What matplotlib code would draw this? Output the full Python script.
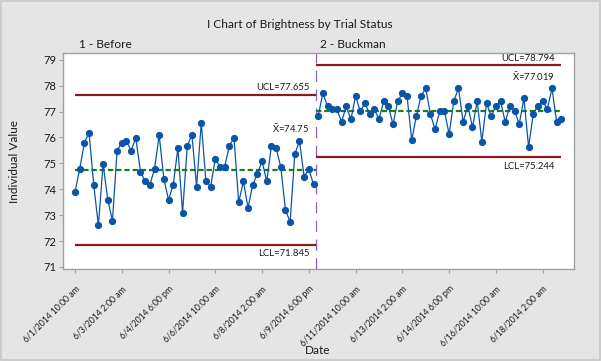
import matplotlib
matplotlib.use("Agg")
import matplotlib.pyplot as plt
from matplotlib.patches import Rectangle
import numpy as np

plt.rcParams['font.family'] = ['Lato', 'DejaVu Sans']
plt.rcParams['mathtext.fontset'] = 'custom'
plt.rcParams['mathtext.rm'] = 'Lato'
plt.rcParams['mathtext.it'] = 'Lato'
plt.rcParams['mathtext.bf'] = 'Lato'

before = [73.90, 74.78, 75.80, 76.18, 74.17, 72.60, 74.98, 73.60, 72.78, 75.49,
          75.80, 75.86, 75.49, 75.98, 74.68, 74.30, 74.17, 74.78, 76.09, 74.40,
          73.59, 74.17, 75.59, 73.09, 75.67, 76.10, 74.10, 76.57, 74.30, 74.10,
          75.17, 74.87, 74.87, 75.68, 75.98, 73.49, 74.30, 73.29, 74.17, 74.59,
          75.09, 74.30, 75.68, 75.59, 74.86, 73.21, 72.73, 75.36, 75.86, 74.49,
          74.77, 74.19]
buckman = [76.83, 77.70, 77.20, 77.09, 77.09, 76.60, 77.20, 76.70, 77.60, 77.01,
           77.32, 76.90, 77.09, 76.70, 77.40, 77.22, 76.51, 77.40, 77.70, 77.60,
           75.90, 76.82, 77.60, 77.90, 76.90, 76.32, 77.01, 77.01, 76.13, 77.40,
           77.90, 76.60, 77.22, 76.40, 77.40, 75.84, 77.32, 76.83, 77.20, 77.40,
           76.60, 77.22, 77.02, 76.52, 77.51, 75.63, 76.91, 77.22, 77.40, 77.09,
           77.90, 76.60, 76.70]

phase_names = ["1 - Before", "2 - Buckman"]
ucl = [77.655, 78.794]
mean = [74.75, 77.019]
lcl = [71.845, 75.244]

tick_labels = ["6/1/2014 10:00 am", "6/3/2014 2:00 am", "6/4/2014 6:00 pm",
               "6/6/2014 10:00 am", "6/8/2014 2:00 am", "6/9/2014 6:00 pm",
               "6/11/2014 10:00 am", "6/13/2014 2:00 am", "6/14/2014 6:00 pm",
               "6/16/2014 10:00 am", "6/18/2014 2:00 am"]

values = before + buckman
x = np.arange(len(values))
n1 = len(before)
split = n1 - 0.5

W, H = 601, 361
fig = plt.figure(figsize=(W / 100, H / 100), dpi=100)
fig.patch.set_facecolor('#E5E5E5')
fig.patches.append(Rectangle((0.001, 0.002), 0.997, 0.995, transform=fig.transFigure,
                             fill=False, edgecolor='#C8C8C8', lw=1.2))

ax = fig.add_axes([63 / W, 1 - 269 / H, (573.5 - 63) / W, (269 - 53.3) / H])
ax.set_facecolor('white')

red = '#8B1A1A'
green = '#1E7B1E'
blue = '#0B55A8'
purple = '#8A5CD0'

segs = [(0, split), (split, len(values) - 1)]
for i, (a, b) in enumerate(segs):
    ax.plot([a, b], [ucl[i], ucl[i]], color=red, lw=1.6, solid_capstyle='butt', zorder=2)
    ax.plot([a, b], [lcl[i], lcl[i]], color=red, lw=1.6, solid_capstyle='butt', zorder=2)
    ax.plot([a, b], [mean[i], mean[i]], color=green, lw=1.6,
            linestyle=(0, (2.4, 1.3)), zorder=2)

ax.axvline(split, color=purple, lw=0.9, linestyle=(0, (9, 6)), zorder=1)

ax.plot(x[:n1], before, color=blue, lw=0.9, marker='o', markersize=4.2, zorder=3)
ax.plot(x[n1:], buckman, color=blue, lw=0.9, marker='o', markersize=4.2, zorder=3)

fs_lab = 6.8
tc = '#1A1A1A'
xbar = r'$\bar{\mathrm{X}}$'
# left phase labels
xl = 50.1
ax.text(xl, ucl[0] + 0.1, f"UCL={ucl[0]}", ha='right', va='bottom', fontsize=fs_lab, color=tc)
ax.text(xl, mean[0] + 1.34, f"{xbar}={mean[0]}", ha='right', va='bottom', fontsize=fs_lab, color=tc)
ax.text(xl, lcl[0] - 0.16, f"LCL={lcl[0]}", ha='right', va='top', fontsize=fs_lab, color=tc)
# right phase labels
xr = 102.6
ax.text(xr, ucl[1] + 0.1, f"UCL={ucl[1]}", ha='right', va='bottom', fontsize=fs_lab, color=tc)
ax.text(xr, mean[1] + 1.09, f"{xbar}={mean[1]}", ha='right', va='bottom', fontsize=fs_lab, color=tc)
ax.text(xr, lcl[1] - 0.18, f"LCL={lcl[1]}", ha='right', va='top', fontsize=fs_lab, color=tc)

ax.set_xlim(-2.57, 106.6)
ax.set_ylim(70.92, 79.25)
ax.set_yticks(np.arange(71, 80, 1))
ax.set_xticks(np.arange(0, 101, 10))
ax.set_xticklabels(tick_labels, rotation=45, ha='right', rotation_mode='anchor', fontsize=6.2)
ax.tick_params(axis='y', labelsize=8, length=3, color='#A0A0A0', pad=2, labelcolor=tc)
ax.tick_params(axis='x', length=3, color='#A0A0A0', pad=8, labelcolor=tc)
for s in ax.spines.values():
    s.set_color('#A0A0A0')
    s.set_linewidth(1.0)

fig.text(15 / W, 1 - 162 / H, "Individual Value", rotation=90, ha='center', va='center',
         fontsize=8.5, color=tc)
fig.text(318 / W, 1 - 351 / H, "Date", ha='center', va='center', fontsize=8.5, color=tc)

fig.text(300 / W, 1 - 25 / H, "I Chart of Brightness by Trial Status", ha='center', va='center',
         fontsize=8.6, color=tc)
fig.text(79 / W, 1 - 45 / H, phase_names[0], ha='left', va='center', fontsize=8.6, color=tc)
fig.text(320 / W, 1 - 45 / H, phase_names[1], ha='left', va='center', fontsize=8.6, color=tc)

fig.savefig("out.png", dpi=100, facecolor=fig.get_facecolor())
